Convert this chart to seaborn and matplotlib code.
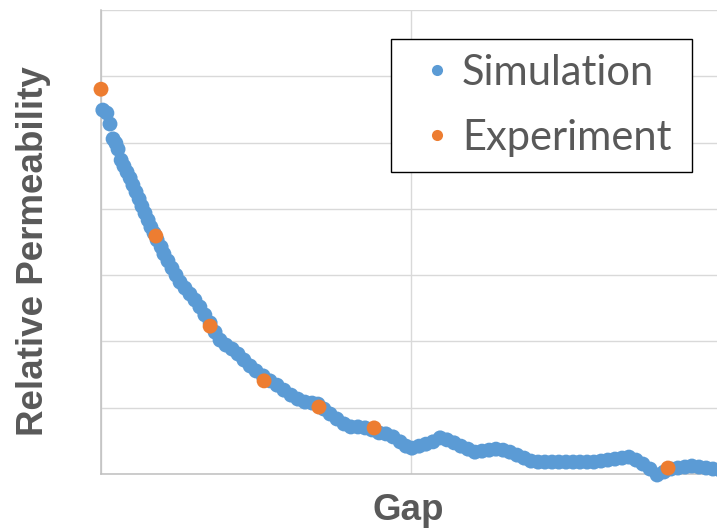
import numpy as np
import pandas as pd
import matplotlib
matplotlib.use("Agg")
import matplotlib.pyplot as plt
import seaborn as sns

# ---- data ----
sim_gap = [0.006, 0.019, 0.029, 0.039, 0.048, 0.055, 0.065, 0.074, 0.084, 0.094,
           0.103, 0.113, 0.123, 0.132, 0.142, 0.152, 0.161, 0.171, 0.181, 0.194,
           0.203, 0.216, 0.229, 0.242, 0.255, 0.271, 0.287, 0.303, 0.319, 0.335,
           0.352, 0.368, 0.384, 0.403, 0.423, 0.442, 0.461, 0.481, 0.500, 0.523,
           0.545, 0.568, 0.590, 0.613, 0.635, 0.658, 0.681, 0.700, 0.719, 0.739,
           0.761, 0.784, 0.806, 0.829, 0.852, 0.874, 0.897, 0.919, 0.942, 0.965,
           0.984, 1.003, 1.026, 1.048, 1.071, 1.094, 1.116, 1.139, 1.161, 1.184,
           1.206, 1.229, 1.252, 1.274, 1.297, 1.319, 1.342, 1.365, 1.387, 1.410,
           1.432, 1.455, 1.477, 1.500, 1.523, 1.545, 1.568, 1.590, 1.613, 1.635,
           1.658, 1.681, 1.703, 1.726, 1.748, 1.771, 1.794, 1.816, 1.839, 1.861,
           1.884, 1.906, 1.929, 1.952, 1.974, 1.997]
sim_perm = [1.098, 1.089, 1.056, 1.011, 0.998, 0.980, 0.947, 0.929, 0.911, 0.893,
            0.872, 0.851, 0.830, 0.808, 0.787, 0.766, 0.745, 0.727, 0.706, 0.685,
            0.664, 0.643, 0.621, 0.600, 0.579, 0.561, 0.543, 0.525, 0.504, 0.480,
            0.456, 0.428, 0.404, 0.389, 0.377, 0.362, 0.344, 0.326, 0.311, 0.296,
            0.281, 0.268, 0.253, 0.238, 0.226, 0.217, 0.214, 0.211, 0.196, 0.181,
            0.166, 0.151, 0.142, 0.142, 0.139, 0.133, 0.124, 0.121, 0.112, 0.097,
            0.084, 0.078, 0.084, 0.090, 0.097, 0.109, 0.103, 0.094, 0.084, 0.075,
            0.066, 0.069, 0.072, 0.075, 0.072, 0.066, 0.057, 0.048, 0.039, 0.036,
            0.036, 0.036, 0.036, 0.036, 0.036, 0.036, 0.036, 0.036, 0.039, 0.042,
            0.045, 0.048, 0.051, 0.042, 0.030, 0.015, -0.003, 0.006, 0.015, 0.018,
            0.021, 0.024, 0.021, 0.018, 0.015, 0.012]
exp_gap = [0.000, 0.177, 0.352, 0.526, 0.703, 0.881, 1.829]
exp_perm = [1.161, 0.718, 0.446, 0.281, 0.202, 0.139, 0.018]

series_names = ["Simulation", "Experiment"]
series_colors = ["#5B9BD5", "#ED7D31"]

df = pd.concat([
    pd.DataFrame({"Gap": sim_gap, "Relative Permeability": sim_perm, "series": series_names[0]}),
    pd.DataFrame({"Gap": exp_gap, "Relative Permeability": exp_perm, "series": series_names[1]}),
], ignore_index=True)

# ---- figure ----
sns.set_style("white")
W, H = 717, 529
fig = plt.figure(figsize=(W / 100, H / 100), dpi=100)
ax = fig.add_axes([101 / W, (H - 474) / H, (717 - 101) / W, (474 - 10) / H])

sns.scatterplot(data=df, x="Gap", y="Relative Permeability", hue="series",
                hue_order=series_names, palette=dict(zip(series_names, series_colors)),
                s=115, linewidth=0, alpha=1, ax=ax, zorder=3)
for c in ax.collections:
    c.set_clip_on(False)

ax.set_xlim(0, 1.987)
ax.set_ylim(0, 1.4)
ax.set_xticks([0, 1])
ax.set_yticks(np.arange(0, 1.41, 0.2))
ax.grid(True, color="#D9D9D9", linewidth=1.0, zorder=0)
ax.set_axisbelow(True)
ax.tick_params(length=0, labelleft=False, labelbottom=False)
for side in ["top", "right"]:
    ax.spines[side].set_visible(False)
for side in ["left", "bottom"]:
    ax.spines[side].set_color("#BFBFBF")
    ax.spines[side].set_linewidth(1.1)

label_font = dict(family="Liberation Sans", weight="bold", size=26.5, color="#595959")
ax.set_xlabel("Gap", **label_font)
ax.set_ylabel("Relative Permeability", **label_font)
ax.xaxis.set_label_coords((408 - 101) / 616, (474 - 493) / 464)
ax.yaxis.set_label_coords((51 - 101) / 616, (474 - 251) / 464)

fs = 30
sns.move_legend(ax, "upper left",
                bbox_to_anchor=(391 / W, 1 - 39 / H, (692 - 391) / W, 0.0),
                bbox_transform=fig.transFigure, mode="expand",
                title=None, frameon=True, fancybox=False, framealpha=1,
                edgecolor="black", borderaxespad=0, borderpad=0.36,
                handlelength=1.49, handletextpad=-0.15, labelspacing=0.65,
                prop=dict(family="Lato", size=fs), labelcolor="#595959")
leg = ax.get_legend()
leg.get_frame().set_linewidth(1.0)
for h in leg.legend_handles:
    if hasattr(h, "set_markersize"):
        h.set_markersize(8)
    elif hasattr(h, "set_sizes"):
        h.set_sizes([64])

fig.savefig("out.png", dpi=100)
